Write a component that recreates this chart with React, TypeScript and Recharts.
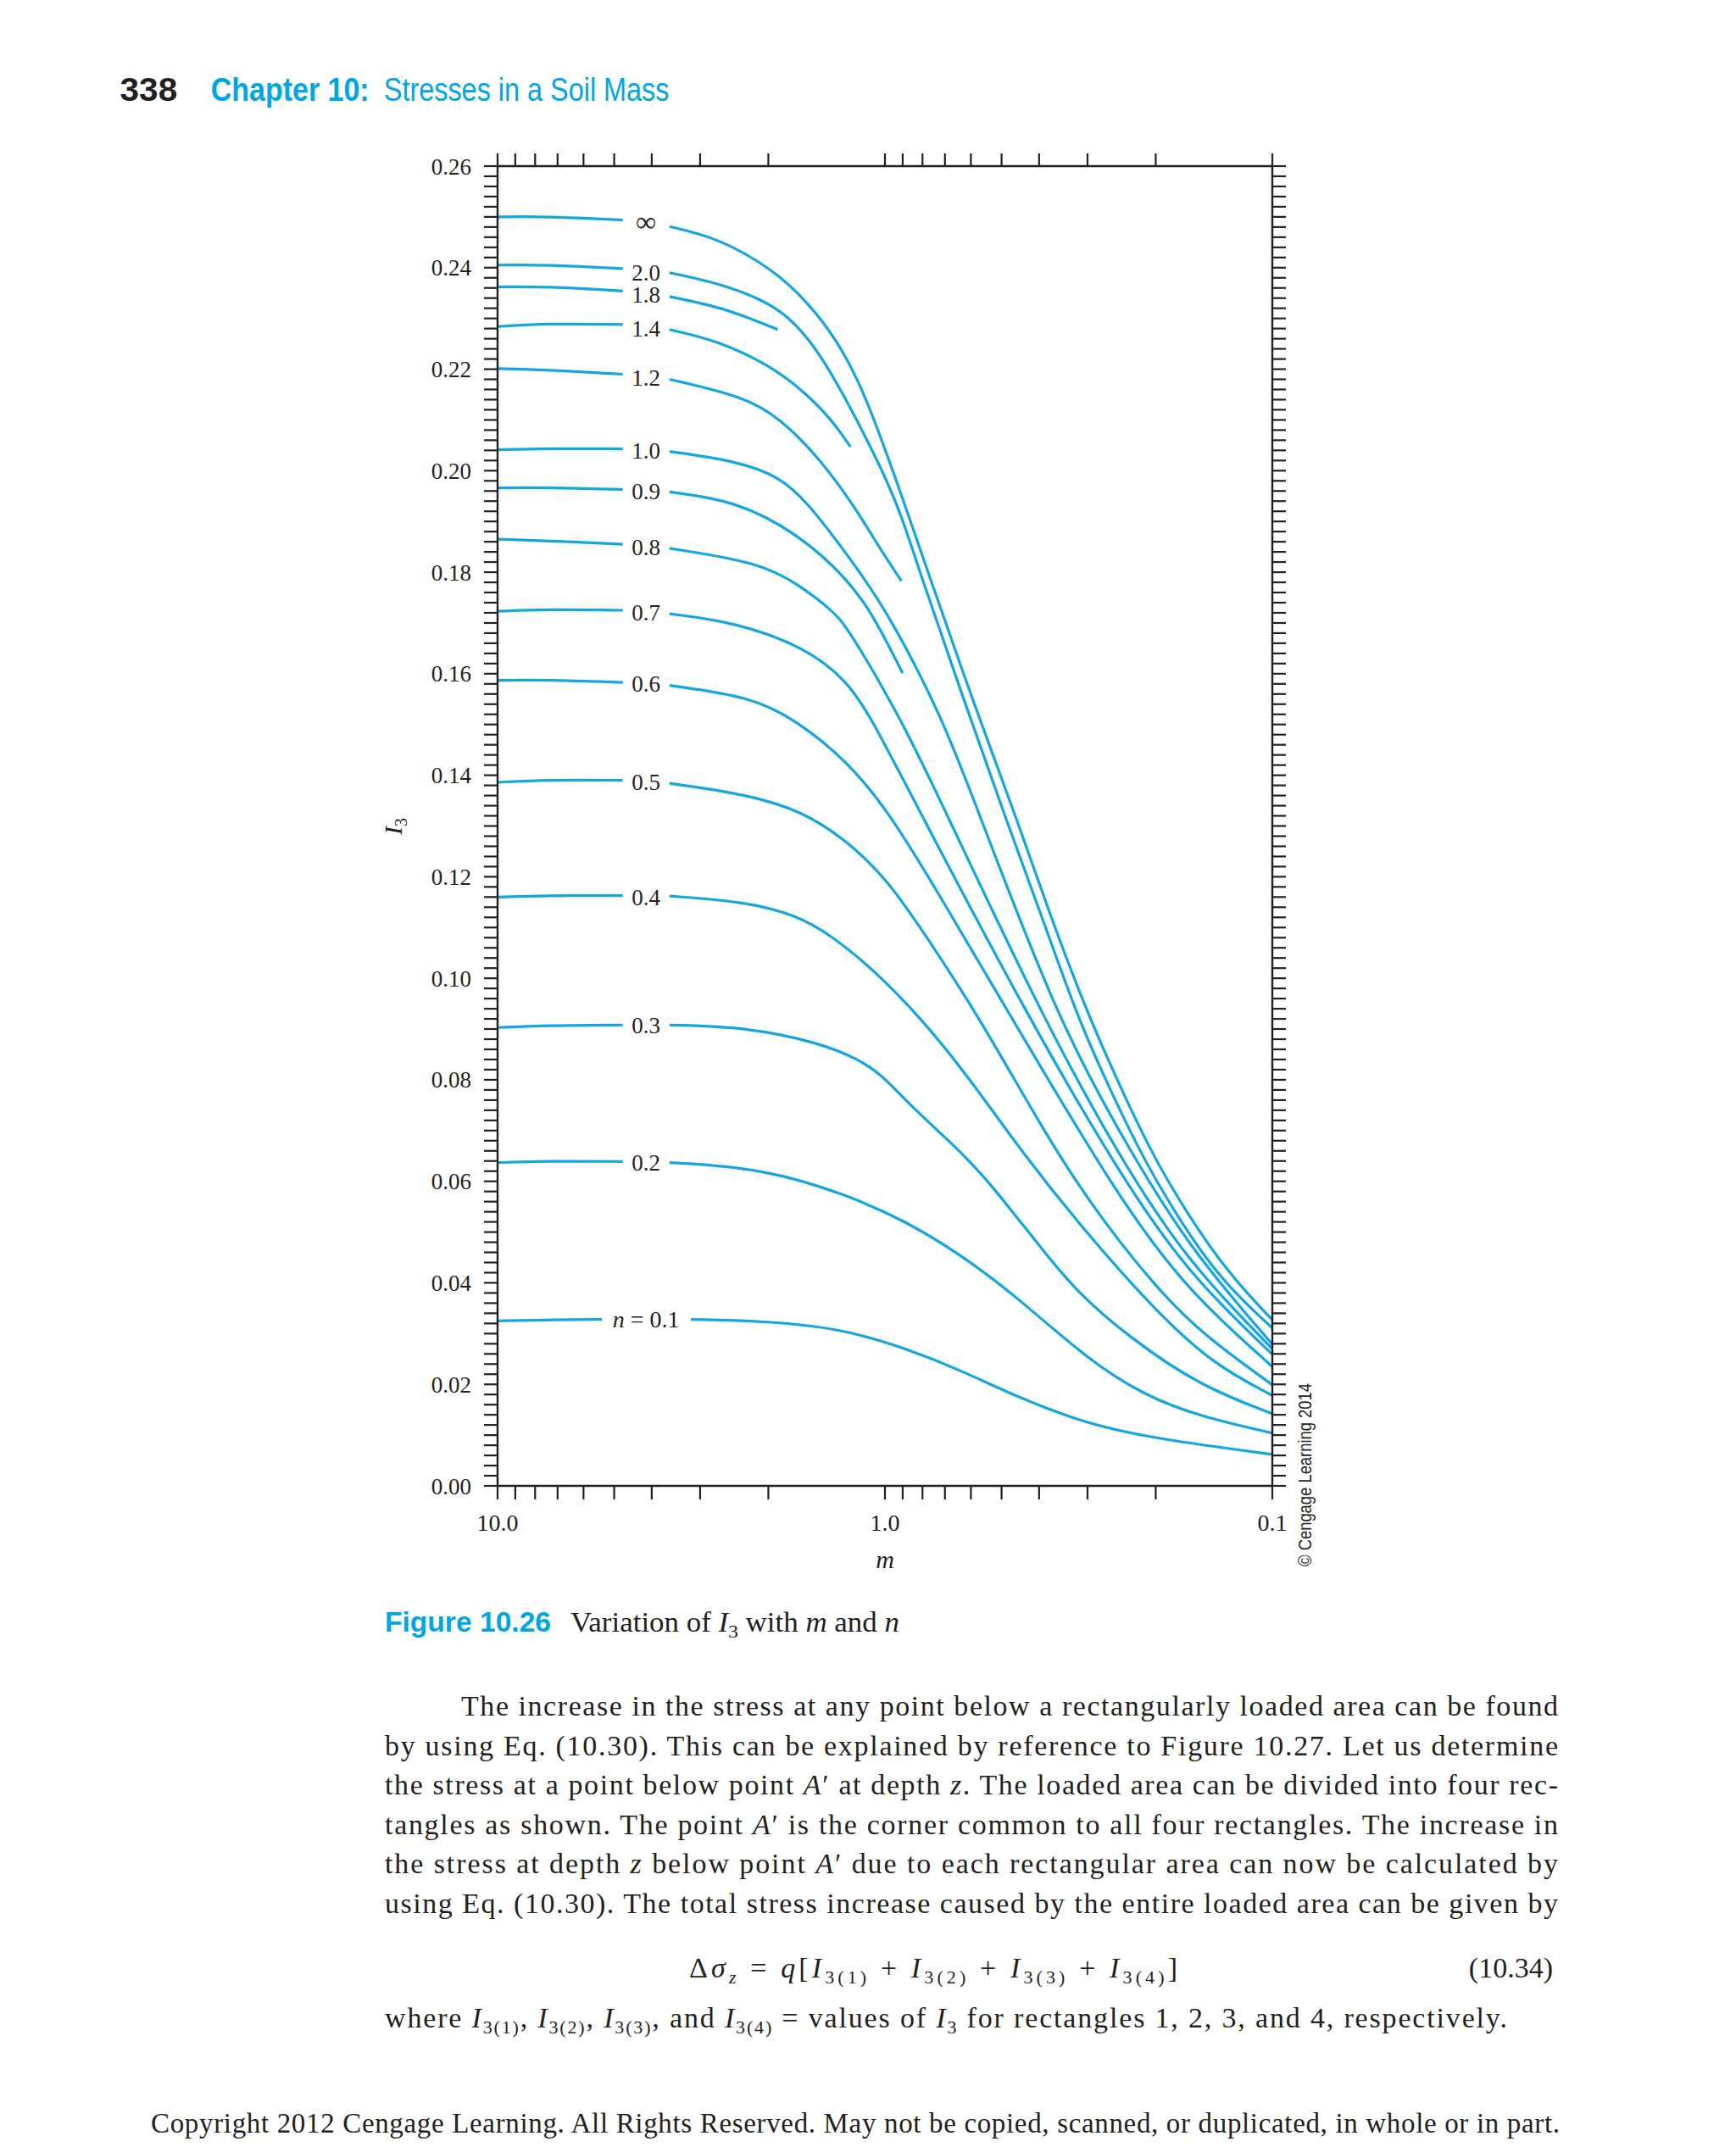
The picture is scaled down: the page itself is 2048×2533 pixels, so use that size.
import React from 'react';
import { LineChart, Line, XAxis, YAxis, ReferenceDot } from 'recharts';

const LINE_BLUE = '#14a6e0';
const HEAD_BLUE = '#00a5e3';
const INK = '#231f20';
const SERIF = '"Liberation Serif", "Times New Roman", serif';
const SANS_N = '"Liberation Sans Narrow", "Liberation Sans", Arial, sans-serif';
const SANS = '"Liberation Sans", Arial, sans-serif';

// ---------- axis ticks ----------
const mTicks = [10, 9, 8, 7, 6, 5, 4, 3, 2, 1, 0.9, 0.8, 0.7, 0.6, 0.5, 0.4, 0.3, 0.2, 0.1];
const mTickLabels: Record<string, string> = { '10': '10.0', '1': '1.0', '0.1': '0.1' };
const i3Labels = ['0.00', '0.02', '0.04', '0.06', '0.08', '0.10', '0.12', '0.14', '0.16', '0.18', '0.20', '0.22', '0.24', '0.26'];
const i3MinorTicks = Array.from({ length: 131 }, (_, i) => Math.round(i * 2) / 1000);

// ---------- curves: [m, I3] (left piece before label, right piece after label) ----------
const nInfLeft: [number, number][] = [[10, 0.25], [7.5, 0.2501], [4.75, 0.2494]];
const nInfRight: [number, number][] = [[3.6, 0.2481], [2.7, 0.2459], [1.93, 0.2395], [1.58, 0.2331], [1.335, 0.2259], [1.167, 0.2175], [1.055, 0.2092], [0.907, 0.1953], [0.767, 0.1791], [0.586, 0.1535], [0.456, 0.1313], [0.3725, 0.1118], [0.297, 0.0923], [0.253, 0.0804], [0.207, 0.0661], [0.166, 0.0536], [0.129, 0.0416], [0.1, 0.0327]];

const n20Left: [number, number][] = [[10, 0.2405], [7.5, 0.2406], [4.75, 0.2398]];
const n20Right: [number, number][] = [[3.6, 0.239], [2.7, 0.237], [2.07, 0.2337], [1.776, 0.2304], [1.527, 0.2248], [1.335, 0.2175], [1.167, 0.2092], [1.02, 0.2003], [0.907, 0.1914], [0.806, 0.1791], [0.6165, 0.1535], [0.487, 0.1313], [0.392, 0.1118], [0.318, 0.0923], [0.271, 0.0804], [0.221, 0.0661], [0.178, 0.0536], [0.136, 0.0405], [0.1, 0.0311]];

const n18Left: [number, number][] = [[10, 0.2362], [7.5, 0.2363], [4.75, 0.2354]];
const n18Right: [number, number][] = [[3.6, 0.2343], [2.7, 0.2323], [2.285, 0.2303], [1.89, 0.2278]];

const n14Left: [number, number][] = [[10, 0.2284], [7.5, 0.229], [4.75, 0.2288]];
const n14Right: [number, number][] = [[3.6, 0.2278], [2.7, 0.2256], [2.0, 0.2209], [1.633, 0.2159], [1.38, 0.2103], [1.227, 0.2047]];

const n12Left: [number, number][] = [[10, 0.2201], [7.5, 0.2199], [4.75, 0.219]];
const n12Right: [number, number][] = [[3.6, 0.218], [2.285, 0.2145], [1.867, 0.2103], [1.476, 0.2025], [1.187, 0.1925], [1.02, 0.1841], [0.907, 0.1783]];

const n10Left: [number, number][] = [[10, 0.2041], [7.5, 0.2044], [4.75, 0.2043]];
const n10Right: [number, number][] = [[3.6, 0.2038], [2.45, 0.202], [1.87, 0.1989], [1.58, 0.1936], [1.269, 0.1841], [0.9865, 0.1725], [0.706, 0.1508], [0.583, 0.1341], [0.36, 0.0923], [0.25, 0.07], [0.166, 0.0473], [0.1, 0.0279]];

const n09Left: [number, number][] = [[10, 0.1966], [7.5, 0.1967], [4.75, 0.1963]];
const n09Right: [number, number][] = [[3.6, 0.1958], [2.45, 0.1942], [1.666, 0.1875], [1.247, 0.1786], [1.073, 0.1716], [0.9, 0.1601]];

const n08Left: [number, number][] = [[10, 0.1865], [7.5, 0.1862], [4.75, 0.1855]];
const n08Right: [number, number][] = [[3.6, 0.1847], [2.1, 0.1819], [1.666, 0.1775], [1.369, 0.1725], [1.247, 0.1691], [0.904, 0.1508], [0.71, 0.1341], [0.392, 0.0923], [0.25, 0.0652], [0.166, 0.0442], [0.1, 0.027]];

const n07Left: [number, number][] = [[10, 0.1723], [7.5, 0.1727], [4.75, 0.1725]];
const n07Right: [number, number][] = [[3.6, 0.1718], [2.45, 0.1702], [1.603, 0.1652], [1.247, 0.1585], [1.075, 0.1508], [0.83, 0.1341], [0.427, 0.0923], [0.25, 0.0619], [0.166, 0.042], [0.1, 0.0259]];

const n06Left: [number, number][] = [[10, 0.1587], [7.5, 0.1588], [4.75, 0.1583]];
const n06Right: [number, number][] = [[3.6, 0.1577], [2.225, 0.1555], [1.689, 0.1508], [1.247, 0.1427], [0.97, 0.1324], [0.736, 0.1174], [0.472, 0.0923], [0.25, 0.0568], [0.166, 0.0385], [0.1, 0.0235]];

const n05Left: [number, number][] = [[10, 0.1386], [7.5, 0.1391], [4.75, 0.139]];
const n05Right: [number, number][] = [[3.6, 0.1384], [2.285, 0.1363], [1.633, 0.1329], [1.269, 0.1274], [0.9865, 0.1196], [0.767, 0.1073], [0.571, 0.0923], [0.4, 0.0715], [0.3, 0.0562], [0.2, 0.039], [0.15, 0.0296], [0.1, 0.0199]];

const n04Left: [number, number][] = [[10, 0.116], [7.5, 0.1163], [4.75, 0.1163]];
const n04Right: [number, number][] = [[3.6, 0.1162], [2.285, 0.1151], [1.689, 0.1124], [1.38, 0.1085], [1.073, 0.1018], [0.81, 0.0923], [0.606, 0.0804], [0.441, 0.0655], [0.299, 0.0494], [0.197, 0.0339], [0.141, 0.0238], [0.1, 0.0178]];

const n03Left: [number, number][] = [[10, 0.0903], [7.5, 0.0907], [4.75, 0.0908]];
const n03Right: [number, number][] = [[3.6, 0.0908], [2.285, 0.0904], [1.476, 0.0873], [1.167, 0.084], [1.02, 0.081], [0.877, 0.0756], [0.692, 0.0683], [0.639, 0.0658], [0.538, 0.0598], [0.456, 0.0528], [0.419, 0.0494], [0.326, 0.0387], [0.233, 0.0291], [0.153, 0.0196], [0.1, 0.0142]];

const n02Left: [number, number][] = [[10, 0.0637], [7.5, 0.064], [4.75, 0.0639]];
const n02Right: [number, number][] = [[3.6, 0.0637], [2.07, 0.0626], [1.247, 0.0573], [0.892, 0.0523], [0.6375, 0.0456], [0.456, 0.0372], [0.2995, 0.0249], [0.214, 0.0178], [0.153, 0.0136], [0.1, 0.0104]];

const n01Left: [number, number][] = [[10, 0.0325], [7.5, 0.0327], [5.38, 0.0328]];
const n01Right: [number, number][] = [[3.17, 0.0328], [2.07, 0.0325], [1.313, 0.0311], [0.892, 0.0272], [0.6375, 0.0228], [0.456, 0.0175], [0.2995, 0.0121], [0.197, 0.0092], [0.1, 0.0062]];

const curves = [
  { id: 'inf', left: nInfLeft, right: nInfRight },
  { id: '2.0', left: n20Left, right: n20Right },
  { id: '1.8', left: n18Left, right: n18Right },
  { id: '1.4', left: n14Left, right: n14Right },
  { id: '1.2', left: n12Left, right: n12Right },
  { id: '1.0', left: n10Left, right: n10Right },
  { id: '0.9', left: n09Left, right: n09Right },
  { id: '0.8', left: n08Left, right: n08Right },
  { id: '0.7', left: n07Left, right: n07Right },
  { id: '0.6', left: n06Left, right: n06Right },
  { id: '0.5', left: n05Left, right: n05Right },
  { id: '0.4', left: n04Left, right: n04Right },
  { id: '0.3', left: n03Left, right: n03Right },
  { id: '0.2', left: n02Left, right: n02Right },
  { id: '0.1', left: n01Left, right: n01Right },
];

// curve labels (text, I3 position) placed at m = labelM
const labelM = 4.14;
const curveLabels: { text: string; v: number }[] = [
  { text: '∞', v: 0.2487 },
  { text: '2.0', v: 0.2391 },
  { text: '1.8', v: 0.2347 },
  { text: '1.4', v: 0.2281 },
  { text: '1.2', v: 0.2184 },
  { text: '1.0', v: 0.2039 },
  { text: '0.9', v: 0.196 },
  { text: '0.8', v: 0.1849 },
  { text: '0.7', v: 0.172 },
  { text: '0.6', v: 0.158 },
  { text: '0.5', v: 0.1386 },
  { text: '0.4', v: 0.116 },
  { text: '0.3', v: 0.0907 },
  { text: '0.2', v: 0.0637 },
  { text: 'n = 0.1', v: 0.0328 },
];

const toPts = (a: [number, number][]) => a.map(([m, v]) => ({ m, v }));

// ---------- ticks ----------
const BottomTick = (props: any) => {
  const { x, y, payload } = props;
  const lab = mTickLabels[String(payload.value)];
  return (
    <g>
      <line x1={x} y1={y} x2={x} y2={y + 16} stroke={INK} strokeWidth={2.2} />
      {lab && (
        <text x={x} y={y + 53} textAnchor="middle" fontFamily={SERIF} fontSize={28} fill={INK}>
          {lab}
        </text>
      )}
    </g>
  );
};
const TopTick = (props: any) => {
  const { x, y } = props;
  return <line x1={x} y1={y - 15} x2={x} y2={y} stroke={INK} strokeWidth={2.2} />;
};
const LeftTick = (props: any) => {
  const { x, y, payload } = props;
  const v = payload.value as number;
  const k = Math.round(v / 0.02);
  const major = Math.abs(v - k * 0.02) < 1e-6;
  return (
    <g>
      <line x1={x - 16} y1={y} x2={x} y2={y} stroke={INK} strokeWidth={2.2} />
      {major && (
        <text x={x - 31} y={y + 9.5} textAnchor="end" fontFamily={SERIF} fontSize={27} fill={INK}>
          {i3Labels[k]}
        </text>
      )}
    </g>
  );
};
const RightTick = (props: any) => {
  const { x, y } = props;
  return <line x1={x} y1={y} x2={x + 16} y2={y} stroke={INK} strokeWidth={2.2} />;
};

const CurveLabel = (props: any) => {
  const vb = props.viewBox || {};
  const cx = (vb.x ?? 0) + (vb.width ?? 0) / 2;
  const cy = (vb.y ?? 0) + (vb.height ?? 0) / 2;
  const text: string = props.text;
  if (text.startsWith('n')) {
    return (
      <text x={cx} y={cy + 9.5} textAnchor="middle" fontFamily={SERIF} fontSize={28} fill={INK}>
        <tspan fontStyle="italic">n</tspan>
        <tspan> = 0.1</tspan>
      </text>
    );
  }
  const isInf = text === '∞';
  return (
    <text x={cx} y={cy + (isInf ? 9 : 9.5)} textAnchor="middle" fontFamily={SERIF} fontSize={isInf ? 34 : 27} fill={INK}>
      {text}
    </text>
  );
};

const Chart = () => (
  <LineChart width={1700} height={1900} margin={{ top: 178, left: 479, right: 107, bottom: 95 }}>
    <XAxis
      xAxisId="bottom"
      dataKey="m"
      type="number"
      scale="log"
      domain={[0.1, 10]}
      reversed
      allowDataOverflow
      ticks={mTicks}
      interval={0}
      height={60}
      tickSize={0}
      tickMargin={0}
      tickLine={false}
      axisLine={{ stroke: INK, strokeWidth: 2.4 }}
      tick={<BottomTick />}
    />
    <XAxis
      xAxisId="top"
      orientation="top"
      dataKey="m"
      type="number"
      scale="log"
      domain={[0.1, 10]}
      reversed
      allowDataOverflow
      ticks={mTicks}
      interval={0}
      height={10}
      tickSize={0}
      tickMargin={0}
      tickLine={false}
      axisLine={{ stroke: INK, strokeWidth: 2.4 }}
      tick={<TopTick />}
    />
    <YAxis
      yAxisId="left"
      type="number"
      domain={[0, 0.26]}
      allowDataOverflow
      ticks={i3MinorTicks}
      interval={0}
      width={100}
      tickSize={0}
      tickMargin={0}
      tickLine={false}
      axisLine={{ stroke: INK, strokeWidth: 2.4 }}
      tick={<LeftTick />}
    />
    <YAxis
      yAxisId="right"
      orientation="right"
      type="number"
      domain={[0, 0.26]}
      allowDataOverflow
      ticks={i3MinorTicks}
      interval={0}
      width={100}
      tickSize={0}
      tickMargin={0}
      tickLine={false}
      axisLine={{ stroke: INK, strokeWidth: 2.4 }}
      tick={<RightTick />}
    />
    {curves.flatMap((c) => [
      <Line
        key={c.id + '-L'}
        xAxisId="bottom"
        yAxisId="left"
        data={toPts(c.left)}
        dataKey="v"
        type="basis"
        stroke={LINE_BLUE}
        strokeWidth={3.2}
        dot={false}
        activeDot={false}
        isAnimationActive={false}
      />,
      <Line
        key={c.id + '-R'}
        xAxisId="bottom"
        yAxisId="left"
        data={toPts(c.right)}
        dataKey="v"
        type="basis"
        stroke={LINE_BLUE}
        strokeWidth={3.2}
        dot={false}
        activeDot={false}
        isAnimationActive={false}
      />,
    ])}
    {curveLabels.map((l) => (
      <ReferenceDot
        key={'lab' + l.text}
        xAxisId="bottom"
        yAxisId="left"
        x={labelM}
        y={l.v}
        r={0}
        fill="none"
        stroke="none"
        label={<CurveLabel text={l.text} />}
      />
    ))}
  </LineChart>
);

const BODY_FS = 34;
const bodyLeft = 454;
const bodyRight = 1838;
const bodyTop = 2024;
const bodyStep = 46.5;

const PageText = () => (
  <svg width={2048} height={2533} style={{ position: 'absolute', left: -8, top: -8, pointerEvents: 'none' }}>
    {/* header */}
    <text x={141.6} y={119.3} fontFamily={SANS_N} fontWeight="bold" fontSize={38} fill={INK} textLength={67.6} lengthAdjust="spacingAndGlyphs">338</text>
    <text x={248.7} y={119.3} fontFamily={SANS_N} fontWeight="bold" fontSize={38} fill={HEAD_BLUE} textLength={187} lengthAdjust="spacingAndGlyphs">Chapter 10:</text>
    <text x={452.8} y={119.3} fontFamily={SANS_N} fontSize={38} fill={HEAD_BLUE} textLength={336.7} lengthAdjust="spacingAndGlyphs">Stresses in a Soil Mass</text>

    {/* y-axis title */}
    <text transform="translate(474,975) rotate(-90)" fontFamily={SERIF} fontSize={30} fill={INK} textAnchor="middle">
      <tspan fontStyle="italic">I</tspan>
      <tspan fontSize={20} dy={6}>3</tspan>
    </text>
    {/* x-axis title */}
    <text x={1044} y={1850} fontFamily={SERIF} fontStyle="italic" fontSize={30} fill={INK} textAnchor="middle">m</text>

    {/* credit */}
    <text transform="translate(1547,1848) rotate(-90)" fontFamily={SANS} fontSize={22} fill={INK} textLength={216} lengthAdjust="spacingAndGlyphs">© Cengage Learning 2014</text>

    {/* caption */}
    <text x={454} y={1925} fontFamily={SANS_N} fontWeight="bold" fontSize={33} fill={HEAD_BLUE} textLength={196} lengthAdjust="spacingAndGlyphs">Figure 10.26</text>
    <text x={673} y={1925} fontFamily={SERIF} fontSize={33} fill={INK} textLength={388} lengthAdjust="spacingAndGlyphs">
      Variation of <tspan fontStyle="italic">I</tspan><tspan fontSize={22} dy={7}>3</tspan><tspan dy={-7}> with </tspan><tspan fontStyle="italic">m</tspan> and <tspan fontStyle="italic">n</tspan>
    </text>

    {/* body */}
    <g fontFamily={SERIF} fontSize={BODY_FS} fill={INK}>
      <text x={544} y={bodyTop} textLength={bodyRight - 544} lengthAdjust="spacing">The increase in the stress at any point below a rectangularly loaded area can be found</text>
      <text x={bodyLeft} y={bodyTop + bodyStep} textLength={bodyRight - bodyLeft} lengthAdjust="spacing">by using Eq. (10.30). This can be explained by reference to Figure 10.27. Let us determine</text>
      <text x={bodyLeft} y={bodyTop + bodyStep * 2} textLength={bodyRight - bodyLeft} lengthAdjust="spacing">
        the stress at a point below point <tspan fontStyle="italic">A</tspan>′ at depth <tspan fontStyle="italic">z</tspan>. The loaded area can be divided into four rec-
      </text>
      <text x={bodyLeft} y={bodyTop + bodyStep * 3} textLength={bodyRight - bodyLeft} lengthAdjust="spacing">
        tangles as shown. The point <tspan fontStyle="italic">A</tspan>′ is the corner common to all four rectangles. The increase in
      </text>
      <text x={bodyLeft} y={bodyTop + bodyStep * 4} textLength={bodyRight - bodyLeft} lengthAdjust="spacing">
        the stress at depth <tspan fontStyle="italic">z</tspan> below point <tspan fontStyle="italic">A</tspan>′ due to each rectangular area can now be calculated by
      </text>
      <text x={bodyLeft} y={bodyTop + bodyStep * 5} textLength={bodyRight - bodyLeft} lengthAdjust="spacing">using Eq. (10.30). The total stress increase caused by the entire loaded area can be given by</text>

      {/* equation */}
      <text x={813} y={2333} textLength={576} lengthAdjust="spacing">
        Δ<tspan fontStyle="italic">σ</tspan><tspan fontSize={22} fontStyle="italic" dy={7}>z</tspan><tspan dy={-7}> = </tspan><tspan fontStyle="italic">q</tspan>[<tspan fontStyle="italic">I</tspan><tspan fontSize={22} dy={7}>3(1)</tspan><tspan dy={-7}> + </tspan><tspan fontStyle="italic">I</tspan><tspan fontSize={22} dy={7}>3(2)</tspan><tspan dy={-7}> + </tspan><tspan fontStyle="italic">I</tspan><tspan fontSize={22} dy={7}>3(3)</tspan><tspan dy={-7}> + </tspan><tspan fontStyle="italic">I</tspan><tspan fontSize={22} dy={7}>3(4)</tspan><tspan dy={-7}>]</tspan>
      </text>
      <text x={bodyRight - 6} y={2333} textAnchor="end">(10.34)</text>

      <text x={bodyLeft} y={2392} textLength={1778 - bodyLeft} lengthAdjust="spacing">
        where <tspan fontStyle="italic">I</tspan><tspan fontSize={22} dy={7}>3(1)</tspan><tspan dy={-7}>, </tspan><tspan fontStyle="italic">I</tspan><tspan fontSize={22} dy={7}>3(2)</tspan><tspan dy={-7}>, </tspan><tspan fontStyle="italic">I</tspan><tspan fontSize={22} dy={7}>3(3)</tspan><tspan dy={-7}>, and </tspan><tspan fontStyle="italic">I</tspan><tspan fontSize={22} dy={7}>3(4)</tspan><tspan dy={-7}> = values of </tspan><tspan fontStyle="italic">I</tspan><tspan fontSize={22} dy={7}>3</tspan><tspan dy={-7}> for rectangles 1, 2, 3, and 4, respectively.</tspan>
      </text>

      <text x={178} y={2516} fontSize={33} textLength={1662} lengthAdjust="spacing">Copyright 2012 Cengage Learning. All Rights Reserved. May not be copied, scanned, or duplicated, in whole or in part.</text>
    </g>
  </svg>
);

export default function App() {
  return (
    <div style={{ position: 'relative', width: 2032, height: 2525, background: '#fff' }}>
      <div style={{ position: 'absolute', left: 0, top: 0 }}>
        <Chart />
      </div>
      <PageText />
    </div>
  );
}
